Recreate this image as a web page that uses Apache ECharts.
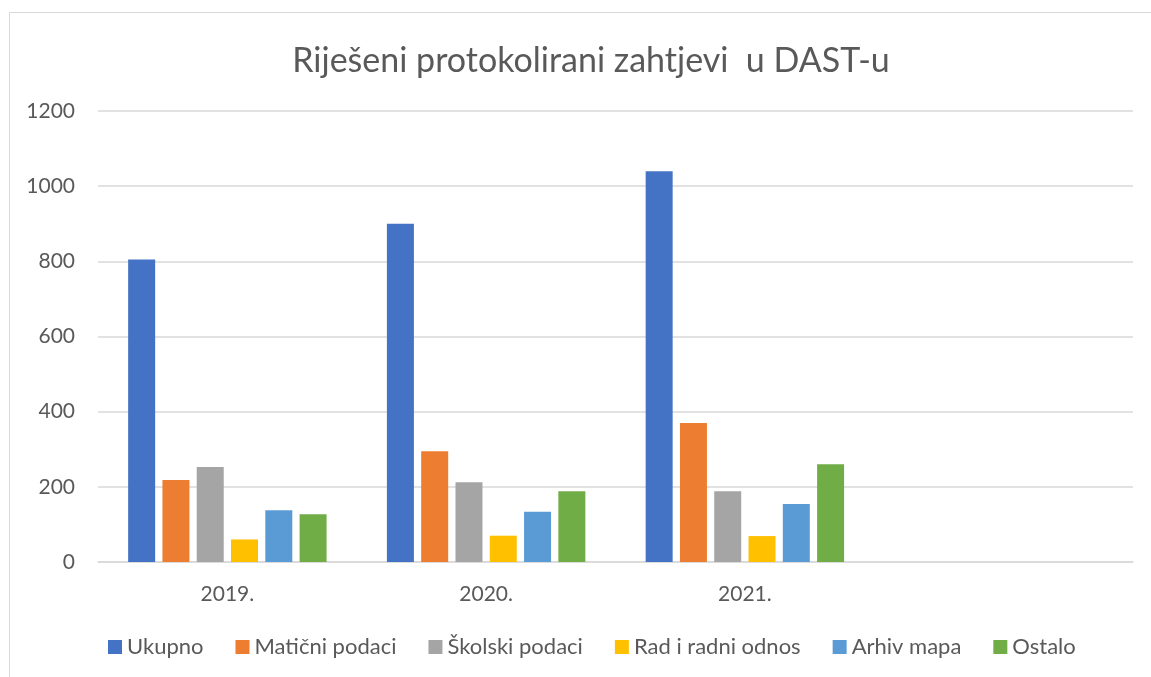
<!DOCTYPE html>
<html>
<head>
    <meta charset="utf-8">
    <title>Riješeni protokolirani zahtjevi</title>
    <script src="https://cdn.jsdelivr.net/npm/echarts@6/dist/echarts.min.js"></script>
    <style>
        body { margin: 0; background: #fff; }
    </style>
</head>
<body>
    <div id="main" style="width: 1151px;height:677px;"></div>
    <script type="text/javascript">
        // podaci
        var years = ['2019.', '2020.', '2021.', ''];
        var seriesNames = ['Ukupno', 'Matični podaci', 'Školski podaci', 'Rad i radni odnos', 'Arhiv mapa', 'Ostalo'];
        var ukupno = [805, 900, 1040, '-'];
        var maticni = [218, 295, 370, '-'];
        var skolski = [253, 212, 188, '-'];
        var rad = [60, 70, 69, '-'];
        var arhiv = [138, 134, 154, '-'];
        var ostalo = [127, 188, 260, '-'];
        var colors = ['#4472c4', '#ed7d31', '#a5a5a5', '#ffc000', '#5b9bd5', '#70ad47'];

        var allData = [ukupno, maticni, skolski, rad, arhiv, ostalo];
        var font = 'Lato, "Open Sans", sans-serif';

        var myChart = echarts.init(document.getElementById('main'));

        var series = allData.map(function (d, i) {
            return {
                name: seriesNames[i],
                type: 'bar',
                data: d,
                barWidth: 27,
                barGap: '27%',
                itemStyle: { color: colors[i] }
            };
        });

        var option = {
            animation: false,
            color: colors,
            textStyle: { fontFamily: font },
            title: {
                text: 'Riješeni protokolirani zahtjevi  u DAST-u',
                left: 586,
                textAlign: 'center',
                top: 39,
                textStyle: { fontFamily: font, fontSize: 34, fontWeight: 'normal', color: '#595959' }
            },
            graphic: [{
                type: 'rect',
                shape: { x: 9.5, y: 12.5, width: 1300, height: 800 },
                style: { fill: 'none', stroke: '#d9d9d9', lineWidth: 1 },
                silent: true,
                z: -1
            }],
            legend: {
                data: seriesNames,
                left: 103,
                top: 631,
                itemWidth: 14,
                itemHeight: 14,
                itemGap: 32,
                icon: 'rect',
                textStyle: { fontFamily: font, fontSize: 22, color: '#595959' }
            },
            grid: {
                left: 98,
                right: 18,
                top: 111,
                bottom: 115
            },
            xAxis: {
                type: 'category',
                data: years,
                axisLine: { lineStyle: { color: '#d9d9d9', width: 1.5 } },
                axisTick: { show: false },
                axisLabel: { fontFamily: font, fontSize: 21, color: '#595959', margin: 22 }
            },
            yAxis: {
                type: 'value',
                min: 0,
                max: 1200,
                interval: 200,
                axisLine: { show: false },
                axisTick: { show: false },
                axisLabel: {
                    fontFamily: font, fontSize: 21, color: '#595959', margin: 23,
                    formatter: function (v) { return String(v); }
                },
                splitLine: { lineStyle: { color: '#d9d9d9', width: 1.5 } }
            },
            series: series
        };

        myChart.setOption(option);
    </script>
</body>
</html>
